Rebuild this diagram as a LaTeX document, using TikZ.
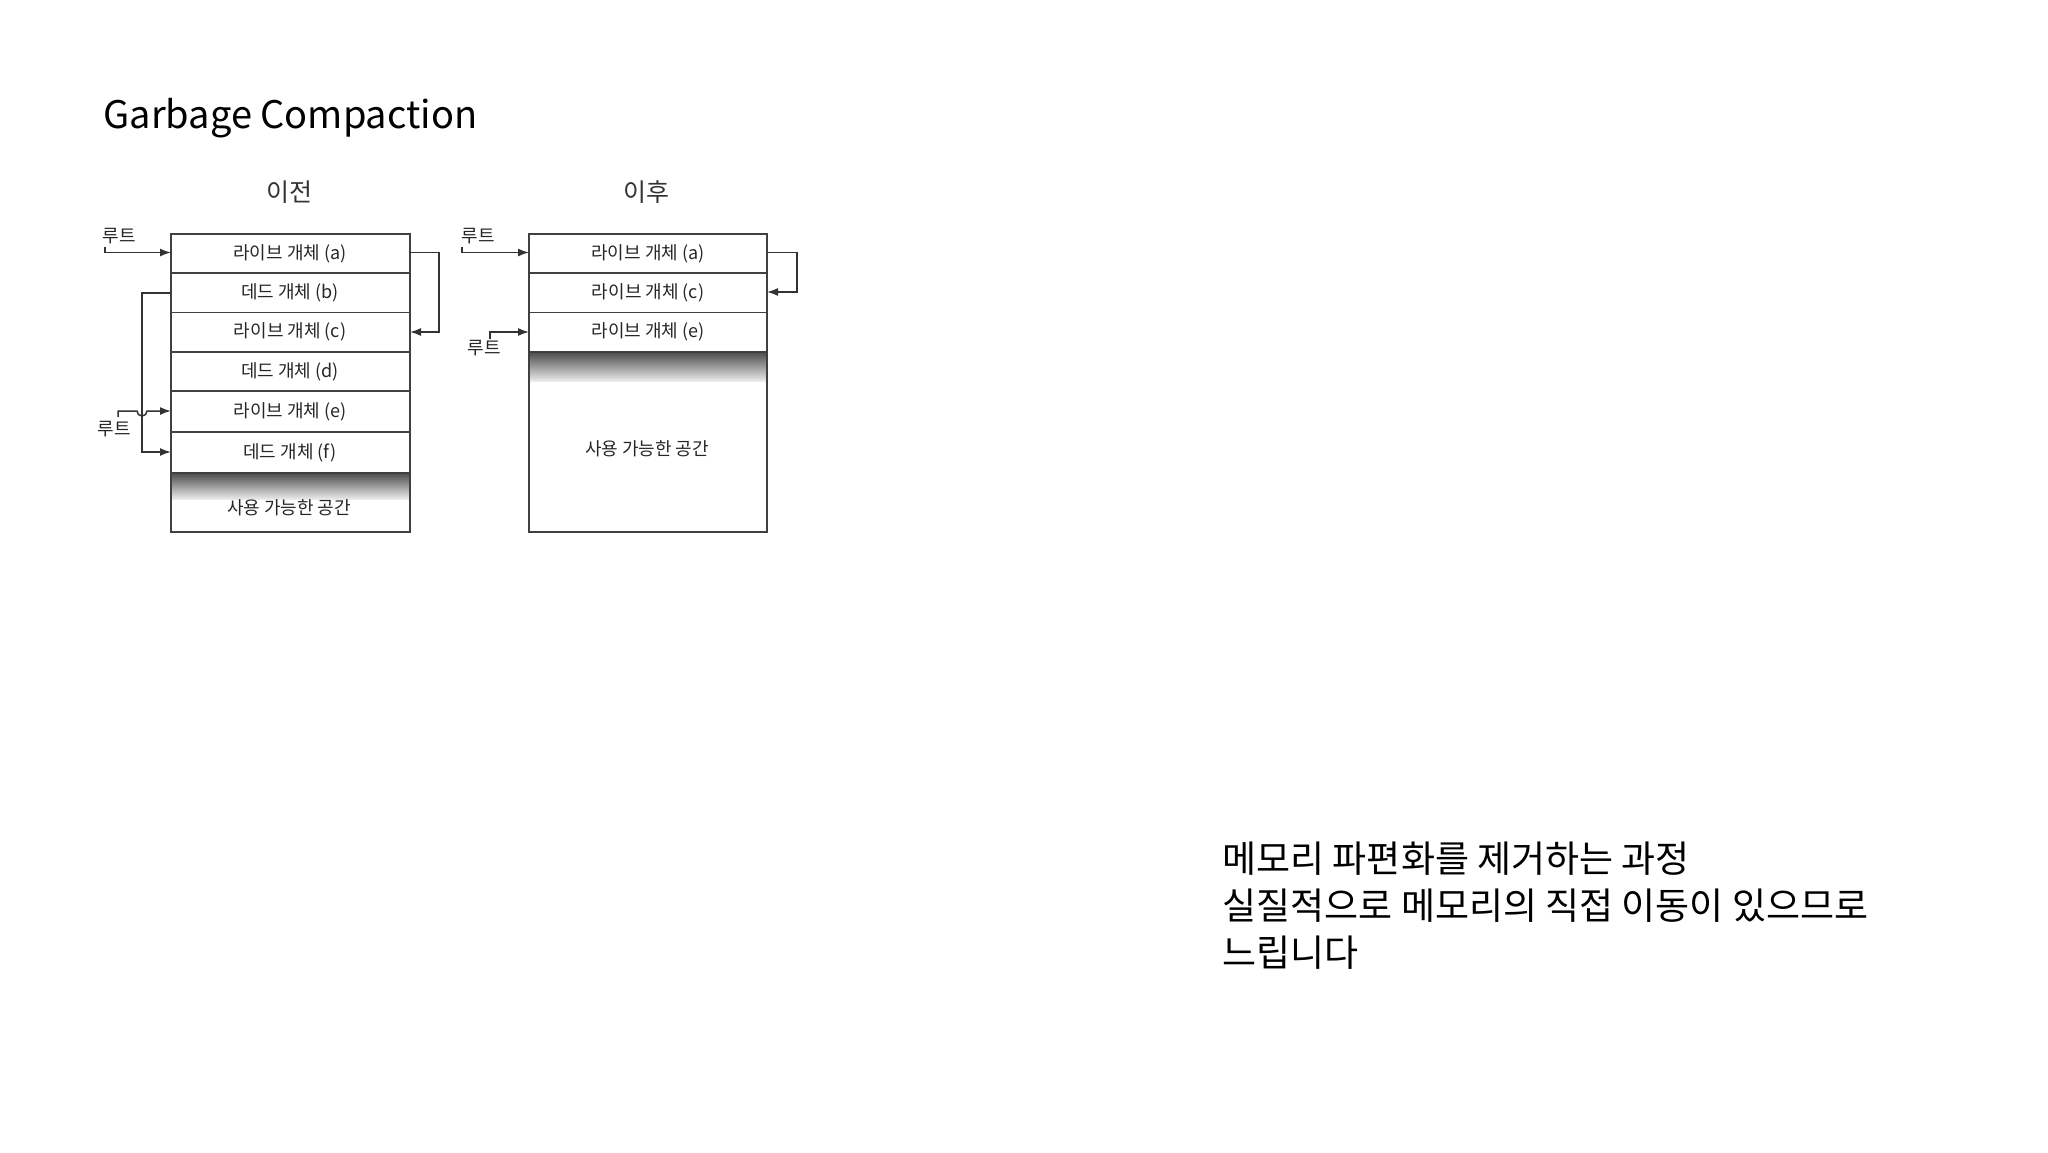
\documentclass[tikz,border=0pt]{standalone}
\usepackage{fontspec}
\setmainfont{Noto Sans CJK KR}
\usetikzlibrary{arrows.meta}
\begin{document}
\begin{tikzpicture}[x=1pt,y=-1pt,
  cell/.style={draw=black!75,line width=1.4pt},
  lbl/.style={font=\fontsize{18}{20}\selectfont,text=black!85},
  conn/.style={draw=black!80,line width=1.5pt,-{Latex[length=11pt,width=8pt]}},
  hd/.style={font=\fontsize{25}{27}\selectfont,text=black!80}]
\useasboundingbox (0,0) rectangle (2048,1152);
\node[anchor=west,font=\fontsize{38}{40}\selectfont] (title) at (100,118) {Garbage Compaction};
\node[hd] (h1) at (289,192) {이전};
\node[hd] (h2) at (646,192) {이후};
\fill[top color=black!70,bottom color=black!8] (171,473) rectangle (410,499);
\fill[top color=black!70,bottom color=black!8] (529,352) rectangle (767,381);
\foreach \n/\t/\b/\s in {la/234/273/라이브 개체 (a),lb/273/312.5/데드 개체 (b),lc/312.5/352/라이브 개체 (c),ld/352/391/데드 개체 (d),le/391/432/라이브 개체 (e),lf/432/473/데드 개체 (f)}{
  \draw[cell] (171,\t) rectangle (410,\b);
  \node[lbl] (\n) at (290,{(\t+\b)/2}) {\s};
}
\draw[cell] (171,473) rectangle (410,532);
\node[lbl] (lfree) at (289,508) {사용 가능한 공간};
\foreach \n/\t/\b/\s in {ra/234/273/라이브 개체 (a),rc/273/312.5/라이브 개체 (c),re/312.5/352/라이브 개체 (e)}{
  \draw[cell] (529,\t) rectangle (767,\b);
  \node[lbl] (\n) at (648,{(\t+\b)/2}) {\s};
}
\draw[cell] (529,352) rectangle (767,532);
\node[lbl] (rfree) at (647,449) {사용 가능한 공간};
% roots
\node[lbl] (r1) at (119,236) {루트};
\node[lbl] (r2) at (114,429) {루트};
\node[lbl] (r3) at (478,236) {루트};
\node[lbl] (r4) at (484,348) {루트};
\coordinate (s1) at (105,247);
\draw[conn] (s1) |- (171,252.5);
\coordinate (s2) at (118,417);
\draw[conn] (s2) |- (137,411) arc[start angle=180,end angle=0,radius=5] -- (171,411);
\draw[conn] (410,252.5) -- (439,252.5) |- (410,332);
\draw[conn] (171,293) -- (142,293) |- (171,452);
\coordinate (s3) at (462,247);
\draw[conn] (s3) |- (529,252.5);
\coordinate (s4) at (490,339);
\draw[conn] (s4) |- (529,332);
\draw[conn] (767,252.5) -- (797,252.5) |- (767,292);
\node[anchor=north west,align=left,font=\fontsize{37}{47}\selectfont] (note) at (1219,838) {메모리 파편화를 제거하는 과정\\실질적으로 메모리의 직접 이동이 있으므로\\느립니다};
\end{tikzpicture}
\end{document}
